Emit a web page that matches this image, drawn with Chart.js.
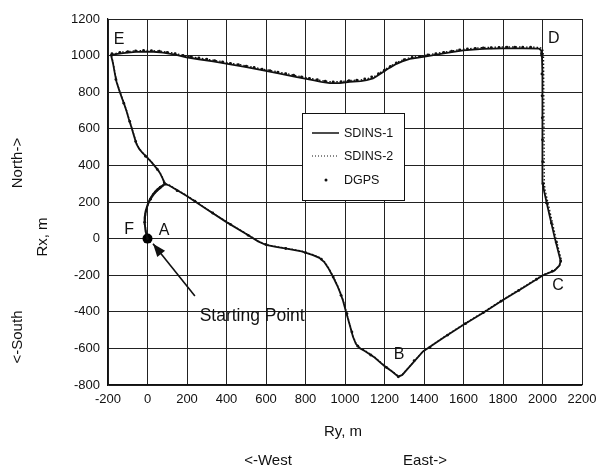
<!DOCTYPE html>
<html>
<head>
<meta charset="utf-8">
<script src="https://cdn.jsdelivr.net/npm/chart.js@4.4.1/dist/chart.umd.min.js"></script>
<style>
  html, body { margin: 0; padding: 0; background: #fff; }
  #wrap { width: 596px; height: 468px; }
</style>
</head>
<body>
<div id="wrap"><canvas id="trackChart" width="596" height="468"></canvas></div>
<script>
// axis ranges / ticks
var xTicks = [-200, 0, 200, 400, 600, 800, 1000, 1200, 1400, 1600, 1800, 2000, 2200];
var yTicks = [-800, -600, -400, -200, 0, 200, 400, 600, 800, 1000, 1200];

// SDINS-1 track, [Ry, Rx] in metres (A -> B -> C -> D -> E -> F)
var sdins1 = [
  [0, 0], [-8, 35], [-14, 80], [-15, 115], [-10, 150], [0, 185], [12, 215], [28, 243], [45, 265], [65, 283],
  [80, 292], [95, 296], [110, 290],
  [197, 234], [300, 160], [400, 90], [500, 25], [560, -15], [600, -35], [650, -45], [704, -55], [780, -70],
  [838, -90], [870, -105], [895, -128], [915, -160], [940, -210], [960, -255], [974, -291], [990, -340],
  [1005, -400], [1024, -472], [1040, -535], [1055, -575], [1075, -600], [1100, -614], [1150, -650],
  [1201, -698], [1240, -728], [1270, -755],
  [1290, -745], [1395, -617], [1500, -540], [1598, -472], [1700, -405], [1800, -336], [1900, -270],
  [2003, -200], [2060, -175], [2085, -148], [2092, -122],
  [2063, 0], [2035, 130], [2008, 260], [2002, 300], [2001, 500], [2000, 700], [1998, 900], [1997, 1000],
  [1994, 1028], [1982, 1038],
  [1900, 1040], [1800, 1040], [1700, 1037], [1598, 1028], [1500, 1012], [1396, 993], [1328, 982],
  [1290, 968], [1261, 955], [1225, 933], [1193, 911], [1160, 887], [1142, 875], [1110, 866], [1080, 860],
  [1024, 857], [974, 850], [923, 850], [880, 857], [838, 866], [750, 884], [670, 902], [580, 920],
  [501, 937], [420, 952], [332, 968], [260, 980], [197, 991], [140, 1005], [79, 1016], [30, 1021],
  [-5, 1022], [-60, 1020], [-124, 1014], [-160, 1008], [-185, 1003],
  [-175, 960], [-165, 900], [-157, 857], [-143, 810], [-130, 770], [-118, 735], [-106, 696], [-95, 655],
  [-81, 607], [-68, 560], [-56, 518], [-42, 490], [-25, 468], [-5, 446], [20, 418], [46, 384], [62, 360],
  [76, 330], [88, 298], [75, 285], [58, 270], [40, 252], [25, 232], [12, 210], [2, 185], [-7, 155],
  [-12, 120], [-14, 80], [-10, 40], [-4, 15], [0, 0]
];

// SDINS-2 track
var sdins2 = [
  [0, 0], [-7, 38], [-13, 84], [-14, 118], [-9, 153], [1, 188], [13, 218], [29, 246], [46, 268], [66, 286],
  [81, 295], [96, 299], [111, 292],
  [198, 236], [300, 162], [400, 92], [500, 27], [560, -13], [600, -33], [650, -43], [704, -53], [780, -68],
  [838, -88], [871, -103], [896, -126], [916, -158], [941, -208], [961, -253], [975, -289], [991, -338],
  [1006, -398], [1025, -470], [1041, -533], [1056, -573], [1076, -598], [1101, -612], [1151, -648],
  [1202, -696], [1241, -726], [1271, -752],
  [1291, -742], [1396, -615], [1500, -538], [1598, -470], [1700, -402], [1800, -333], [1900, -266],
  [2005, -196], [2063, -171], [2089, -144], [2096, -118],
  [2068, 2], [2041, 132], [2014, 262], [2009, 302], [2008, 500], [2007, 700], [2006, 900], [2005, 1004],
  [2001, 1034], [1986, 1045],
  [1900, 1047], [1800, 1047], [1700, 1044], [1598, 1035], [1500, 1019], [1396, 1000], [1328, 989],
  [1290, 975], [1261, 962], [1225, 940], [1193, 918], [1160, 894], [1142, 882], [1110, 873], [1080, 867],
  [1024, 864], [974, 857], [923, 857], [880, 864], [838, 873], [750, 891], [670, 909], [580, 927],
  [501, 944], [420, 959], [332, 975], [260, 987], [197, 998], [140, 1012], [79, 1023], [30, 1027],
  [-5, 1028], [-60, 1026], [-124, 1020], [-160, 1012], [-183, 1006],
  [-174, 962], [-164, 901], [-156, 858], [-142, 811], [-129, 771], [-117, 736], [-105, 697], [-94, 656],
  [-80, 608], [-67, 561], [-55, 519], [-41, 491], [-24, 469], [-4, 447], [21, 419], [47, 385], [63, 361],
  [77, 331], [89, 299], [76, 286], [59, 271], [41, 253], [26, 233], [13, 211], [3, 186], [-6, 156],
  [-11, 121], [-13, 81], [-9, 41], [-3, 16], [0, 0]
];

// DGPS fixes
var dgps = [
  [0, 0], [-14, 90], [15, 215], [65, 280],
  [150, 262], [240, 205], [330, 140], [420, 78], [510, 18], [600, -32], [700, -54], [800, -77], [880, -112],
  [940, -210], [980, -310], [1010, -410], [1035, -510], [1065, -588], [1130, -636], [1210, -704], [1270, -755],
  [1350, -667], [1430, -595], [1520, -527], [1610, -465], [1700, -405], [1790, -342], [1880, -283],
  [1970, -222], [2050, -178], [2092, -122],
  [2070, -20], [2045, 85], [2020, 195], [2003, 300], [2001, 420], [2000, 540], [1999, 660], [1998, 780],
  [1997, 900], [1996, 1010],
  [1940, 1046], [1900, 1046], [1860, 1046], [1820, 1046], [1780, 1045], [1740, 1043], [1700, 1042],
  [1660, 1039], [1620, 1036], [1580, 1031], [1540, 1024], [1500, 1018], [1460, 1011], [1420, 1004],
  [1380, 996], [1340, 990], [1300, 978], [1260, 960], [1230, 941], [1200, 920], [1170, 901], [1135, 884],
  [1100, 872], [1060, 866], [1020, 863], [980, 857], [940, 856], [900, 860], [860, 868], [820, 876],
  [780, 884], [740, 893], [700, 901], [660, 910], [620, 918], [580, 926], [540, 935], [500, 943],
  [460, 951], [420, 958], [380, 966], [340, 973], [300, 981], [260, 988], [220, 994], [180, 1001],
  [140, 1011], [100, 1018], [60, 1024], [20, 1027], [-20, 1028], [-60, 1026], [-100, 1021], [-140, 1017],
  [-180, 1010],
  [-160, 870], [-120, 740], [-90, 640], [-60, 530], [-10, 450], [50, 378], [85, 305]
];

var startPoint = [[0, 0]];

function toXY(arr) {
  return arr.map(function(p) { return { x: p[0], y: p[1] }; });
}

var FONT = "'Liberation Sans', Arial, sans-serif";

var annotationPlugin = {
  id: 'annotations',
  afterDraw: function(chart) {
    var ctx = chart.ctx;
    var xs = chart.scales.x, ys = chart.scales.y;
    function px(v) { return xs.getPixelForValue(v); }
    function py(v) { return ys.getPixelForValue(v); }
    ctx.save();
    ctx.fillStyle = '#111';
    ctx.strokeStyle = '#111';

    // point letters
    ctx.font = '16px ' + FONT;
    ctx.textAlign = 'center';
    ctx.textBaseline = 'middle';
    ctx.fillText('E', px(-144), py(1090));
    ctx.fillText('D', px(2057), py(1091));
    ctx.fillText('C', px(2079), py(-255));
    ctx.fillText('B', px(1274), py(-632));
    ctx.fillText('F', px(-93), py(47));
    ctx.fillText('A', px(84), py(44));

    // starting point note + arrow
    ctx.font = '17.5px ' + FONT;
    ctx.fillText('Starting Point', px(530), py(-425));
    var x0 = px(240), y0 = py(-313), x1 = px(28), y1 = py(-28);
    ctx.lineWidth = 1.6;
    ctx.beginPath();
    ctx.moveTo(x0, y0);
    ctx.lineTo(x1, y1);
    ctx.stroke();
    var ang = Math.atan2(y1 - y0, x1 - x0);
    var hl = 13, hw = 5;
    ctx.beginPath();
    ctx.moveTo(x1, y1);
    ctx.lineTo(x1 - hl * Math.cos(ang) + hw * Math.sin(ang), y1 - hl * Math.sin(ang) - hw * Math.cos(ang));
    ctx.lineTo(x1 - hl * Math.cos(ang) - hw * Math.sin(ang), y1 - hl * Math.sin(ang) + hw * Math.cos(ang));
    ctx.closePath();
    ctx.fill();

    // legend box
    var lx = 302, ly = 113, lw = 102, lh = 87;
    ctx.fillStyle = '#fff';
    ctx.fillRect(lx, ly, lw, lh);
    ctx.lineWidth = 1;
    ctx.strokeStyle = '#111';
    ctx.strokeRect(lx + 0.5, ly + 0.5, lw, lh);
    ctx.fillStyle = '#111';
    ctx.font = '12.5px ' + FONT;
    ctx.textAlign = 'left';
    var rows = [133, 156, 180];
    ctx.lineWidth = 1.5;
    ctx.beginPath();
    ctx.moveTo(312, rows[0]);
    ctx.lineTo(339, rows[0]);
    ctx.stroke();
    ctx.setLineDash([1, 2]);
    ctx.lineWidth = 1;
    ctx.beginPath();
    ctx.moveTo(312, rows[1]);
    ctx.lineTo(339, rows[1]);
    ctx.stroke();
    ctx.setLineDash([]);
    ctx.beginPath();
    ctx.arc(326, rows[2], 1.5, 0, Math.PI * 2);
    ctx.fill();
    ctx.fillText('SDINS-1', 344, rows[0] + 1);
    ctx.fillText('SDINS-2', 344, rows[1] + 1);
    ctx.fillText('DGPS', 344, rows[2] + 1);

    // axis titles
    ctx.font = '15px ' + FONT;
    ctx.textAlign = 'center';
    ctx.fillText('Ry, m', 343, 432);
    ctx.fillText('<-West', 268, 461);
    ctx.fillText('East->', 425, 461);
    function vtext(t, x, y) {
      ctx.save();
      ctx.translate(x, y);
      ctx.rotate(-Math.PI / 2);
      ctx.fillText(t, 0, 0);
      ctx.restore();
    }
    vtext('North->', 18, 163);
    vtext('Rx, m', 43, 237);
    vtext('<-South', 18, 337);
    ctx.restore();
  }
};

function plainTick(v) { return String(v); }

var ctx = document.getElementById('trackChart').getContext('2d');
var trackChart = new Chart(ctx, {
  type: 'scatter',
  data: {
    datasets: [
      {
        label: 'SDINS-2',
        data: toXY(sdins2),
        showLine: true,
        borderColor: '#111',
        borderWidth: 1.3,
        borderDash: [1.5, 2],
        pointRadius: 0,
        tension: 0
      },
      {
        label: 'SDINS-1',
        data: toXY(sdins1),
        showLine: true,
        borderColor: '#111',
        borderWidth: 1.8,
        pointRadius: 0,
        tension: 0
      },
      {
        label: 'DGPS',
        data: toXY(dgps),
        showLine: false,
        backgroundColor: '#111',
        borderWidth: 0,
        pointRadius: 1.4
      },
      {
        label: 'start',
        data: toXY(startPoint),
        backgroundColor: '#000',
        borderWidth: 0,
        pointRadius: 5
      }
    ]
  },
  options: {
    responsive: false,
    animation: false,
    events: [],
    layout: { padding: { top: 19, right: 14, left: 0, bottom: 0 } },
    plugins: {
      legend: { display: false },
      tooltip: { enabled: false }
    },
    scales: {
      x: {
        type: 'linear',
        min: xTicks[0],
        max: xTicks[xTicks.length - 1],
        afterBuildTicks: function(s) { s.ticks = xTicks.map(function(v) { return { value: v }; }); },
        afterFit: function(s) { s.height = 83; s.paddingLeft = 0; s.paddingRight = 0; },
        ticks: { color: '#111', font: { family: FONT, size: 13 }, padding: 7, maxRotation: 0, autoSkip: false, callback: plainTick },
        grid: { color: '#222', lineWidth: 1, drawTicks: false },
        border: { color: '#111', width: 1.2 }
      },
      y: {
        type: 'linear',
        min: yTicks[0],
        max: yTicks[yTicks.length - 1],
        afterBuildTicks: function(s) { s.ticks = yTicks.map(function(v) { return { value: v }; }); },
        afterFit: function(s) { s.width = 108; s.paddingTop = 0; s.paddingBottom = 0; },
        ticks: { color: '#111', font: { family: FONT, size: 13 }, padding: 8, autoSkip: false, callback: plainTick },
        grid: { color: '#222', lineWidth: 1, drawTicks: false },
        border: { color: '#111', width: 1.2 }
      }
    }
  },
  plugins: [annotationPlugin]
});
</script>
</body>
</html>
